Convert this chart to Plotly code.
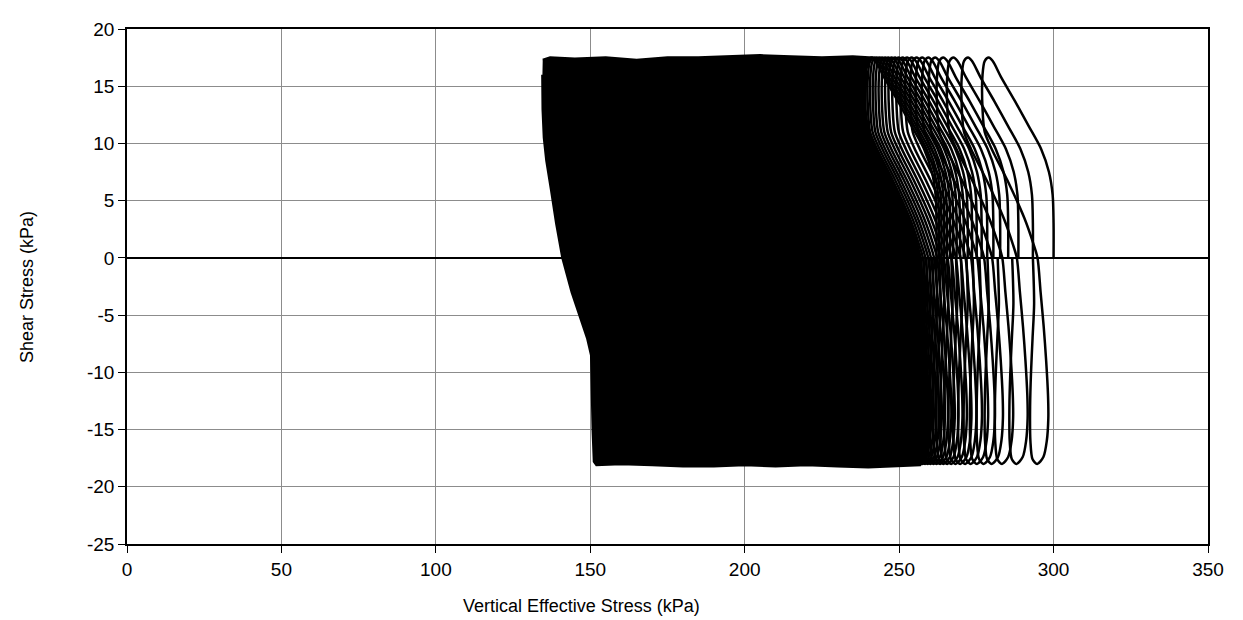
import plotly.graph_objects as go

# Starting vertical effective stress (tau = 0) of each clearly separated cycle, kPa
cycle_start = [300.0, 293.3, 288.6, 285.3, 282.7, 280.5, 278.5, 276.7, 275.1, 273.6,
               272.2, 270.9, 269.7, 268.6, 267.5, 266.5, 265.5, 264.6, 263.7, 262.9, 262.1]

# Shape of one cycle (offset from start, shear stress)
loop_dx = [0, 0, -0.3, -1.5, -4, -8, -12.5, -17, -19.7, -21,
           -22.3, -23, -23, -22.3, -20, -15, -9.5, -6.5, -5.2,
           -4.2, -3.2, -2.4, -1.8, -1.7, -2.2, -3.3, -5.3, -6.8,
           -7.5, -7.6, -7.3, -6.8, -6.3, -6.7]
loop_tau = [0, 3, 5.5, 7.5, 9.5, 11.5, 13.7, 15.8, 17.2, 17.5,
            17.2, 16, 13, 11, 9.5, 6.8, 3.5, 1.2, 0,
            -3, -6, -9, -12, -14, -16, -17.4, -18, -17.6,
            -16, -13, -10, -7, -4, 0]

# Outline of the dense (fully overlapping) band of later cycles
mass_x = [134.6, 137, 145, 155, 165, 175, 185, 195, 205, 215, 225, 235, 241,
          239.3, 239, 240, 242.5, 247.5, 253, 255.8, 257, 257.6, 258.3, 259, 259.8,
          260.1, 259.8, 258.8, 256.8,
          250, 240, 230, 220, 210, 200, 190, 180, 170, 160, 152, 151.2,
          150.8, 150.5, 150.3, 149, 146.5, 144, 141, 139, 137.3, 135.8, 135, 134.6, 134.5]
mass_tau = [17.3, 17.5, 17.4, 17.5, 17.3, 17.5, 17.5, 17.6, 17.7, 17.6, 17.5, 17.6, 17.5,
            16.5, 13, 11, 9.5, 6.8, 3.5, 1.2, 0, -3, -6, -9, -12,
            -14, -16, -17.4, -18.1,
            -18.2, -18.3, -18.2, -18.1, -18.2, -18.1, -18.2, -18.2, -18.1, -18.0, -18.1, -17.8,
            -15, -11, -8.5, -7, -5, -3, 0, 3, 6, 8.5, 10.5, 13, 16]

x_ticks = [0, 50, 100, 150, 200, 250, 300, 350]
y_ticks = [-25, -20, -15, -10, -5, 0, 5, 10, 15, 20]

px, py = [], []
for a in cycle_start:
    px += [a + d for d in loop_dx] + [None]
    py += loop_tau + [None]

fig = go.Figure()
fig.add_trace(go.Scatter(x=mass_x, y=mass_tau, mode="lines", fill="toself",
                         fillcolor="black", line=dict(color="black", width=2.5),
                         hoverinfo="skip", showlegend=False))
fig.add_trace(go.Scatter(x=px, y=py, mode="lines",
                         line=dict(color="black", width=2.5, shape="spline", smoothing=0.8),
                         showlegend=False))

tick_font = dict(family="Liberation Sans, Arial", size=19, color="black")
title_font = dict(family="Liberation Sans, Arial", size=18, color="black")
axis_common = dict(showgrid=True, gridcolor="#8c8c8c", gridwidth=1,
                   showline=True, linecolor="black", linewidth=1.5, mirror=True,
                   ticks="outside", ticklen=7, tickcolor="black", tickfont=tick_font)

# page body has an 8px margin, so the figure is sized and offset to land on the reference frame
fig.update_layout(
    width=1235, height=612,
    paper_bgcolor="white", plot_bgcolor="white",
    margin=dict(l=119, r=35, t=11, b=76),
    font=tick_font,
    xaxis=dict(range=[0, 350], tickvals=x_ticks, ticktext=[str(v) for v in x_ticks],
               zeroline=False, **axis_common),
    yaxis=dict(range=[-25, 20], tickvals=y_ticks, ticktext=[str(v) for v in y_ticks],
               zeroline=True, zerolinecolor="black", zerolinewidth=1.5, **axis_common),
    annotations=[
        dict(text="Vertical Effective Stress (kPa)", xref="paper", yref="paper",
             x=0.42, y=-0.12, xanchor="center", yanchor="middle", showarrow=False, font=title_font),
        dict(text="Shear Stress (kPa)", xref="paper", yref="paper", textangle=-90,
             x=-0.093, y=0.5, xanchor="center", yanchor="middle", showarrow=False, font=title_font),
    ],
)

fig.write_html("out.html")
